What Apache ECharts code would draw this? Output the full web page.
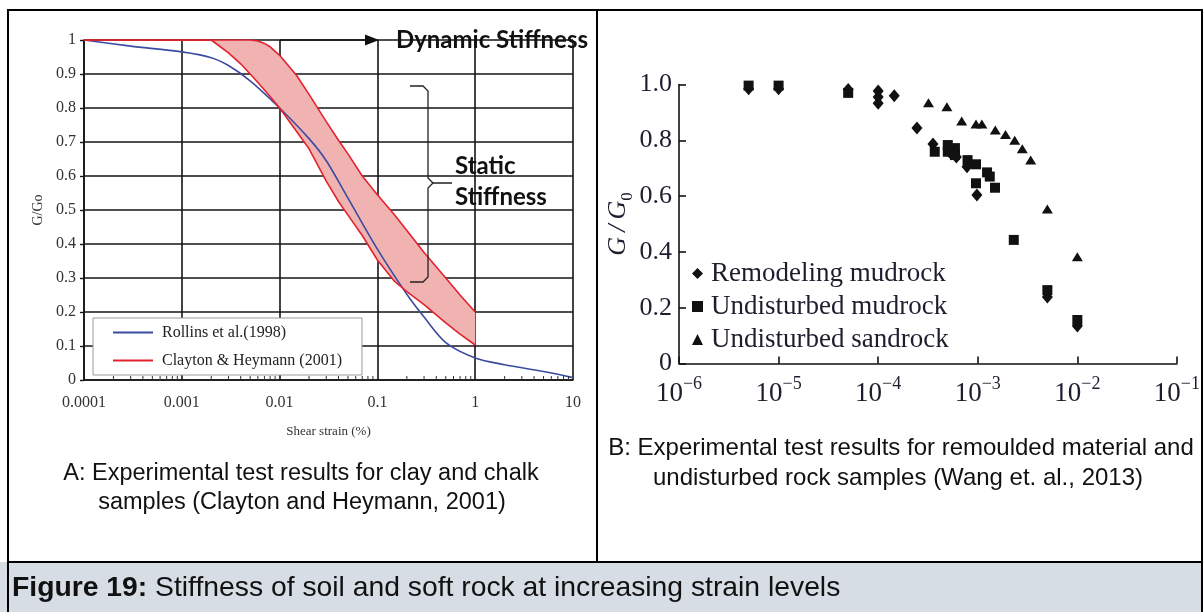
<!DOCTYPE html>
<html>
<head>
<meta charset="utf-8">
<title>Figure 19: Stiffness of soil and soft rock at increasing strain levels</title>
<script src="https://cdn.jsdelivr.net/npm/echarts@6/dist/echarts.min.js"></script>
<style>
  html, body { margin: 0; padding: 0; background: #ffffff; }
  #chart { width: 1203px; height: 612px; }
</style>
</head>
<body>
<div id="chart"></div>
<script>
// ---------- Panel A: G/Go against shear strain (%) ----------
const rollinsStrain = [0.0001, 0.0003, 0.001, 0.002, 0.003, 0.005, 0.01, 0.02, 0.03, 0.05, 0.1, 0.2, 0.3, 0.5, 1, 2, 5, 10];
const rollinsG      = [1.0, 0.982, 0.965, 0.948, 0.925, 0.88, 0.80, 0.71, 0.645, 0.535, 0.385, 0.252, 0.185, 0.11, 0.065, 0.045, 0.025, 0.007];

const claytonStrain = [0.0001, 0.001, 0.002, 0.003, 0.004, 0.005, 0.006, 0.007, 0.008, 0.01, 0.015, 0.02, 0.03, 0.04, 0.05, 0.07, 0.1, 0.15, 0.2, 0.3, 0.5, 0.7, 1];
const claytonLowerG = [1.0, 1.0, 1.0, 0.962, 0.93, 0.90, 0.875, 0.853, 0.834, 0.80, 0.73, 0.68, 0.585, 0.525, 0.485, 0.425, 0.353, 0.29, 0.26, 0.222, 0.168, 0.135, 0.103];
const claytonUpperG = [1.0, 1.0, 1.0, 1.0, 1.0, 1.0, 0.997, 0.99, 0.98, 0.955, 0.895, 0.84, 0.76, 0.705, 0.665, 0.60, 0.545, 0.485, 0.44, 0.375, 0.30, 0.25, 0.20];

const strainTickLabelsA = ['0.0001', '0.001', '0.01', '0.1', '1', '10'];
const gTickLabelsA = ['0', '0.1', '0.2', '0.3', '0.4', '0.5', '0.6', '0.7', '0.8', '0.9', '1'];

// ---------- Panel B: G/G0 against strain ----------
const remodelingStrain = [5e-6, 1e-5, 5e-5, 1e-4, 1e-4, 1e-4, 1.45e-4, 2.45e-4, 3.55e-4, 5.2e-4, 6.1e-4, 7.8e-4, 9.8e-4, 5e-3, 1e-2];
const remodelingG      = [0.985, 0.985, 0.982, 0.977, 0.955, 0.933, 0.96, 0.844, 0.787, 0.758, 0.74, 0.705, 0.604, 0.238, 0.134];

const mudrockStrain = [5e-6, 1e-5, 5e-5, 3.7e-4, 5e-4, 5.9e-4, 5e-4, 5.9e-4, 7.9e-4, 9.6e-4, 1.24e-3, 1.32e-3, 9.6e-4, 1.49e-3, 2.3e-3, 5e-3, 1e-2];
const mudrockG      = [0.996, 0.996, 0.97, 0.759, 0.783, 0.772, 0.759, 0.747, 0.729, 0.714, 0.685, 0.67, 0.646, 0.63, 0.443, 0.263, 0.156];

const sandrockStrain = [3.2e-4, 4.9e-4, 6.9e-4, 9.6e-4, 1.1e-3, 1.5e-3, 1.9e-3, 2.35e-3, 2.8e-3, 3.4e-3, 5e-3, 1e-2];
const sandrockG      = [0.935, 0.92, 0.869, 0.858, 0.858, 0.837, 0.821, 0.80, 0.77, 0.729, 0.554, 0.383];

const gTickLabelsB = ['0', '0.2', '0.4', '0.6', '0.8', '1.0'];

// ---------- helpers ----------
const zip = (xs, ys) => xs.map((x, i) => [x, ys[i]]);
const decadeIndex = (v, min) => Math.round(Math.log10(v) - Math.log10(min));

// minor log ticks (2..9 inside each decade) along the bottom axis of panel A
const minorTicksA = [];
[0.0001, 0.001, 0.01, 0.1, 1].forEach(d => {
  for (let m = 2; m <= 9; m++) minorTicksA.push([d * m, 0]);
});

const serifA = 'Liberation Serif';
const serifB = 'Liberation Serif';
const inkB = '#1d1d2e';
const blue = '#3a4c9f';
const red = '#e2232e';
const pink = '#f1b2b2';
const gridInk = '#151515';

const chart = echarts.init(document.getElementById('chart'), null, { renderer: 'canvas' });

chart.setOption({
  animation: false,
  backgroundColor: '#ffffff',
  grid: [
    { left: 84, top: 40, width: 489, height: 340 },
    { left: 679, top: 84.5, width: 498, height: 279 }
  ],
  xAxis: [
    {
      gridIndex: 0, type: 'log', logBase: 10, min: 0.0001, max: 10, splitNumber: 5,
      axisLine: { show: true, lineStyle: { color: gridInk, width: 1.6 } },
      axisTick: { show: false },
      splitLine: { show: true, lineStyle: { color: gridInk, width: 1.6 } },
      axisLabel: {
        fontFamily: serifA, fontSize: 16, color: '#333', margin: 15,
        formatter: v => strainTickLabelsA[decadeIndex(v, 0.0001)]
      },
      name: 'Shear strain (%)', nameLocation: 'middle', nameGap: 45,
      nameTextStyle: { fontFamily: serifA, fontSize: 13, color: '#333' }
    },
    {
      gridIndex: 1, type: 'log', logBase: 10, min: 1e-6, max: 0.1, splitNumber: 5,
      axisLine: { show: true, lineStyle: { color: '#111', width: 1.6 } },
      axisTick: { show: true, inside: true, length: 7, lineStyle: { color: '#111', width: 1.6 } },
      splitLine: { show: false },
      axisLabel: {
        margin: 12,
        formatter: v => '{b|10}{s|\u2212' + Math.round(-Math.log10(v)) + '}',
        rich: {
          b: { fontFamily: serifB, fontSize: 27, color: inkB, verticalAlign: 'bottom', lineHeight: 32 },
          s: { fontFamily: serifB, fontSize: 18, color: inkB, verticalAlign: 'top', lineHeight: 32 }
        }
      }
    }
  ],
  yAxis: [
    {
      gridIndex: 0, type: 'value', min: 0, max: 1, interval: 0.1,
      axisLine: { show: true, lineStyle: { color: gridInk, width: 1.6 } },
      axisTick: { show: true, length: 4, lineStyle: { color: gridInk, width: 1.4 } },
      splitLine: { show: true, lineStyle: { color: gridInk, width: 1.6 } },
      axisLabel: {
        fontFamily: serifA, fontSize: 16, color: '#333', margin: 8,
        formatter: v => gTickLabelsA[Math.round(v * 10)]
      },
      name: 'G/Go', nameLocation: 'middle', nameGap: 39,
      nameTextStyle: { fontFamily: serifA, fontSize: 14, color: '#333' }
    },
    {
      gridIndex: 1, type: 'value', min: 0, max: 1, interval: 0.2,
      axisLine: { show: true, lineStyle: { color: '#111', width: 1.6 } },
      axisTick: { show: true, inside: true, length: 7, lineStyle: { color: '#111', width: 1.6 } },
      splitLine: { show: false },
      axisLabel: {
        fontFamily: serifB, fontSize: 26, color: inkB, margin: 7,
        formatter: v => gTickLabelsB[Math.round(v * 5)]
      },
      name: '{i|G\u2009/\u2009G}{sub|0}', nameLocation: 'middle', nameGap: 34,
      nameTextStyle: {
        rich: {
          i: { fontFamily: serifB, fontStyle: 'italic', fontSize: 26, color: inkB, verticalAlign: 'top', lineHeight: 30 },
          sub: { fontFamily: serifB, fontSize: 17, color: inkB, verticalAlign: 'bottom', lineHeight: 30 }
        }
      }
    }
  ],
  legend: [
    {
      data: [
        { name: 'Rollins et al.(1998)', icon: 'rect' },
        { name: 'Clayton & Heymann (2001)', icon: 'rect' }
      ],
      left: 93, top: 318, orient: 'vertical',
      itemWidth: 40, itemHeight: 2, itemGap: 10,
      selectedMode: false,
      backgroundColor: '#ffffff', borderColor: '#9a9a9a', borderWidth: 1,
      padding: [5.5, 20, 5.5, 20],
      textStyle: { fontFamily: serifA, fontSize: 16, color: '#222', lineHeight: 18, padding: [0, 0, 0, 4] }
    },
    {
      data: ['Remodeling mudrock', 'Undisturbed mudrock', 'Undisturbed sandrock'],
      left: 692, top: 260, orient: 'vertical',
      itemWidth: 11, itemHeight: 11, itemGap: 6,
      selectedMode: false, padding: 0,
      textStyle: { fontFamily: serifB, fontSize: 27, color: inkB, lineHeight: 26, padding: [0, 0, 0, 3] }
    }
  ],
  series: [
    {
      // shaded band between the two Clayton & Heymann bounds
      name: 'band', type: 'custom', xAxisIndex: 0, yAxisIndex: 0,
      data: [[claytonStrain[0], claytonUpperG[0]]], silent: true, z: 1,
      renderItem: (params, api) => {
        const top = claytonStrain.map((x, i) => api.coord([x, claytonUpperG[i]]));
        const bottom = claytonStrain.map((x, i) => api.coord([x, claytonLowerG[i]])).reverse();
        return { type: 'polygon', shape: { points: top.concat(bottom) }, style: { fill: pink } };
      }
    },
    {
      name: 'Rollins et al.(1998)', type: 'line', xAxisIndex: 0, yAxisIndex: 0,
      data: zip(rollinsStrain, rollinsG), smooth: 0.3, showSymbol: false, z: 3,
      lineStyle: { color: blue, width: 1.6 }, itemStyle: { color: blue }
    },
    {
      name: 'Clayton & Heymann (2001)', type: 'line', xAxisIndex: 0, yAxisIndex: 0,
      data: zip(claytonStrain, claytonLowerG), smooth: false, showSymbol: false, z: 4,
      lineStyle: { color: red, width: 1.6 }, itemStyle: { color: red }
    },
    {
      name: 'Clayton & Heymann (2001)', type: 'line', xAxisIndex: 0, yAxisIndex: 0,
      data: zip(claytonStrain, claytonUpperG), smooth: false, showSymbol: false, z: 4,
      lineStyle: { color: red, width: 1.6 }, itemStyle: { color: red }
    },
    {
      name: 'minor ticks', type: 'custom', xAxisIndex: 0, yAxisIndex: 0,
      data: minorTicksA, silent: true, clip: false, z: 5,
      renderItem: (params, api) => {
        const p = api.coord([api.value(0), api.value(1)]);
        return { type: 'line', shape: { x1: p[0], y1: p[1], x2: p[0], y2: p[1] - 4 },
                 style: { stroke: '#333', lineWidth: 1 } };
      }
    },
    {
      name: 'Remodeling mudrock', type: 'scatter', xAxisIndex: 1, yAxisIndex: 1,
      data: zip(remodelingStrain, remodelingG), symbol: 'diamond', symbolSize: [11, 13],
      itemStyle: { color: '#111', opacity: 1 }, clip: false, z: 3
    },
    {
      name: 'Undisturbed mudrock', type: 'scatter', xAxisIndex: 1, yAxisIndex: 1,
      data: zip(mudrockStrain, mudrockG), symbol: 'rect', symbolSize: 10,
      itemStyle: { color: '#111', opacity: 1 }, clip: false, z: 4
    },
    {
      name: 'Undisturbed sandrock', type: 'scatter', xAxisIndex: 1, yAxisIndex: 1,
      data: zip(sandrockStrain, sandrockG), symbol: 'triangle', symbolSize: [11, 9],
      itemStyle: { color: '#111', opacity: 1 }, clip: false, z: 5
    }
  ],
  graphic: [
    // frame, divider and caption band
    { type: 'rect', z: -10, silent: true, shape: { x: 0, y: 562, width: 1203, height: 50 }, style: { fill: '#d6dde5' } },
    { type: 'rect', z: 10, silent: true, shape: { x: 8, y: 10, width: 1194, height: 610 }, style: { fill: null, stroke: '#000', lineWidth: 2 } },
    { type: 'line', z: 10, silent: true, shape: { x1: 597, y1: 10, x2: 597, y2: 562 }, style: { stroke: '#000', lineWidth: 2 } },
    { type: 'line', z: 10, silent: true, shape: { x1: 8, y1: 562, x2: 1203, y2: 562 }, style: { stroke: '#000', lineWidth: 2 } },

    // annotation: dynamic stiffness arrow
    { type: 'line', z: 20, silent: true, shape: { x1: 280, y1: 40, x2: 368, y2: 40 }, style: { stroke: '#111', lineWidth: 1.5 } },
    { type: 'polygon', z: 20, silent: true, shape: { points: [[365, 34.5], [379, 40], [365, 45.5]] }, style: { fill: '#111' } },
    { type: 'text', z: 20, silent: true, style: { text: 'Dynamic Stiffness', x: 396, y: 40, textVerticalAlign: 'middle',
      fontFamily: 'Lato', fontWeight: 'bold', fontSize: 24, fill: '#111' } },

    // annotation: static stiffness brace
    { type: 'polyline', z: 20, silent: true,
      shape: { points: [[410, 86], [423, 86], [428, 91], [428, 178], [433, 183], [452, 183]] },
      style: { fill: null, stroke: '#222', lineWidth: 1.3 } },
    { type: 'polyline', z: 20, silent: true,
      shape: { points: [[433, 183], [428, 188], [428, 277], [423, 282], [410, 282]] },
      style: { fill: null, stroke: '#222', lineWidth: 1.3 } },
    { type: 'text', z: 20, silent: true, style: { text: 'Static', x: 455, y: 166, textVerticalAlign: 'middle',
      fontFamily: 'Lato', fontWeight: 'bold', fontSize: 24, fill: '#111' } },
    { type: 'text', z: 20, silent: true, style: { text: 'Stiffness', x: 455, y: 197, textVerticalAlign: 'middle',
      fontFamily: 'Lato', fontWeight: 'bold', fontSize: 24, fill: '#111' } },

    // panel captions
    { type: 'text', silent: true, style: { text: 'A: Experimental test results for clay and chalk', x: 301, y: 474,
      textAlign: 'center', textVerticalAlign: 'middle', fontFamily: 'Liberation Sans', fontSize: 23.5, fill: '#111' } },
    { type: 'text', silent: true, style: { text: 'samples (Clayton and Heymann, 2001)', x: 302, y: 503,
      textAlign: 'center', textVerticalAlign: 'middle', fontFamily: 'Liberation Sans', fontSize: 23.5, fill: '#111' } },
    { type: 'text', silent: true, style: { text: 'B: Experimental test results for remoulded material and', x: 901, y: 448,
      textAlign: 'center', textVerticalAlign: 'middle', fontFamily: 'Liberation Sans', fontSize: 24, fill: '#111' } },
    { type: 'text', silent: true, style: { text: 'undisturbed rock samples (Wang et. al., 2013)', x: 898, y: 478,
      textAlign: 'center', textVerticalAlign: 'middle', fontFamily: 'Liberation Sans', fontSize: 24, fill: '#111' } },

    // figure caption
    { type: 'text', silent: true, z: 20, style: {
      text: '{b|Figure 19:}{n| Stiffness of soil and soft rock at increasing strain levels}', x: 12, y: 588,
      textVerticalAlign: 'middle',
      rich: {
        b: { fontFamily: 'Liberation Sans', fontWeight: 'bold', fontSize: 28.3, fill: '#111' },
        n: { fontFamily: 'Liberation Sans', fontSize: 28.3, fill: '#111' }
      } } }
  ]
});
</script>
</body>
</html>
